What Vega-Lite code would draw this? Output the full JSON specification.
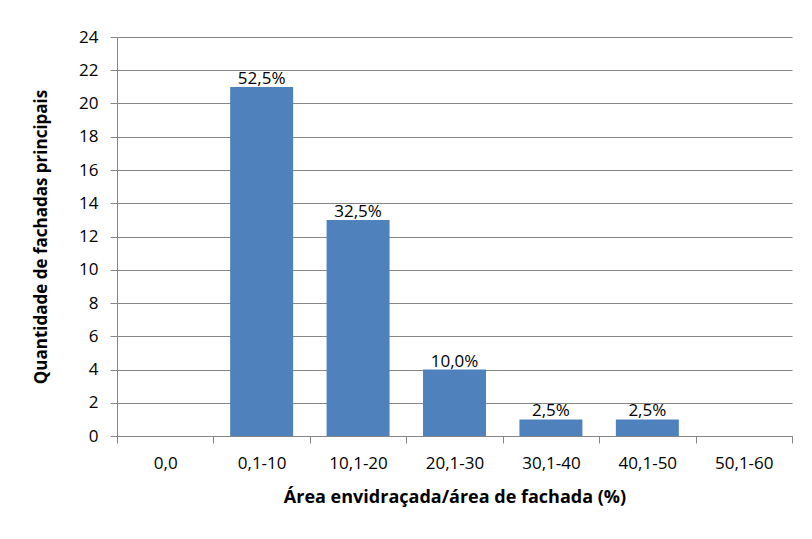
{
  "$schema": "https://vega.github.io/schema/vega-lite/v6.json",
  "width": 675,
  "height": 399,
  "autosize": {"type": "none"},
  "padding": {"left": 117, "top": 37, "right": 20, "bottom": 103},
  "background": "white",
  "config": {
    "font": "Open Sans",
    "view": {"stroke": null}
  },
  "data": {
    "values": [
      {"faixa": "0,0", "qtd": 0, "label": ""},
      {"faixa": "0,1-10", "qtd": 21, "label": "52,5%"},
      {"faixa": "10,1-20", "qtd": 13, "label": "32,5%"},
      {"faixa": "20,1-30", "qtd": 4, "label": "10,0%"},
      {"faixa": "30,1-40", "qtd": 1, "label": "2,5%"},
      {"faixa": "40,1-50", "qtd": 1, "label": "2,5%"},
      {"faixa": "50,1-60", "qtd": 0, "label": ""}
    ]
  },
  "encoding": {
    "x": {
      "field": "faixa", "type": "nominal", "sort": null,
      "scale": {"paddingInner": 0, "paddingOuter": 0},
      "axis": {
        "title": "Área envidraçada/área de fachada (%)",
        "titleFontSize": 18, "titleFontWeight": "bold", "titleColor": "#000",
        "titlePadding": 17,
        "labelAngle": 0, "labelFontSize": 17, "labelColor": "#000", "labelPadding": 12,
        "domainColor": "#868686", "tickColor": "#868686", "tickSize": 7, "tickBand": "extent",
        "grid": false
      }
    },
    "y": {
      "field": "qtd", "type": "quantitative",
      "scale": {"domain": [0, 24], "nice": false},
      "axis": {
        "title": "Quantidade de fachadas principais",
        "titleFontSize": 17, "titleFontWeight": "bold", "titleColor": "#000", "titlePadding": 28,
        "values": [0,2,4,6,8,10,12,14,16,18,20,22,24],
        "labelFontSize": 17, "labelColor": "#000", "labelPadding": 12,
        "domainColor": "#868686", "tickColor": "#868686", "tickSize": 7,
        "gridColor": "#868686", "gridWidth": 1
      }
    }
  },
  "layer": [
    {"mark": {"type": "bar", "color": "#4F81BD", "width": {"band": 0.653}}},
    {
      "mark": {"type": "text", "baseline": "bottom", "dy": 1, "fontSize": 17, "color": "#000"},
      "encoding": {"text": {"field": "label"}}
    }
  ]
}
